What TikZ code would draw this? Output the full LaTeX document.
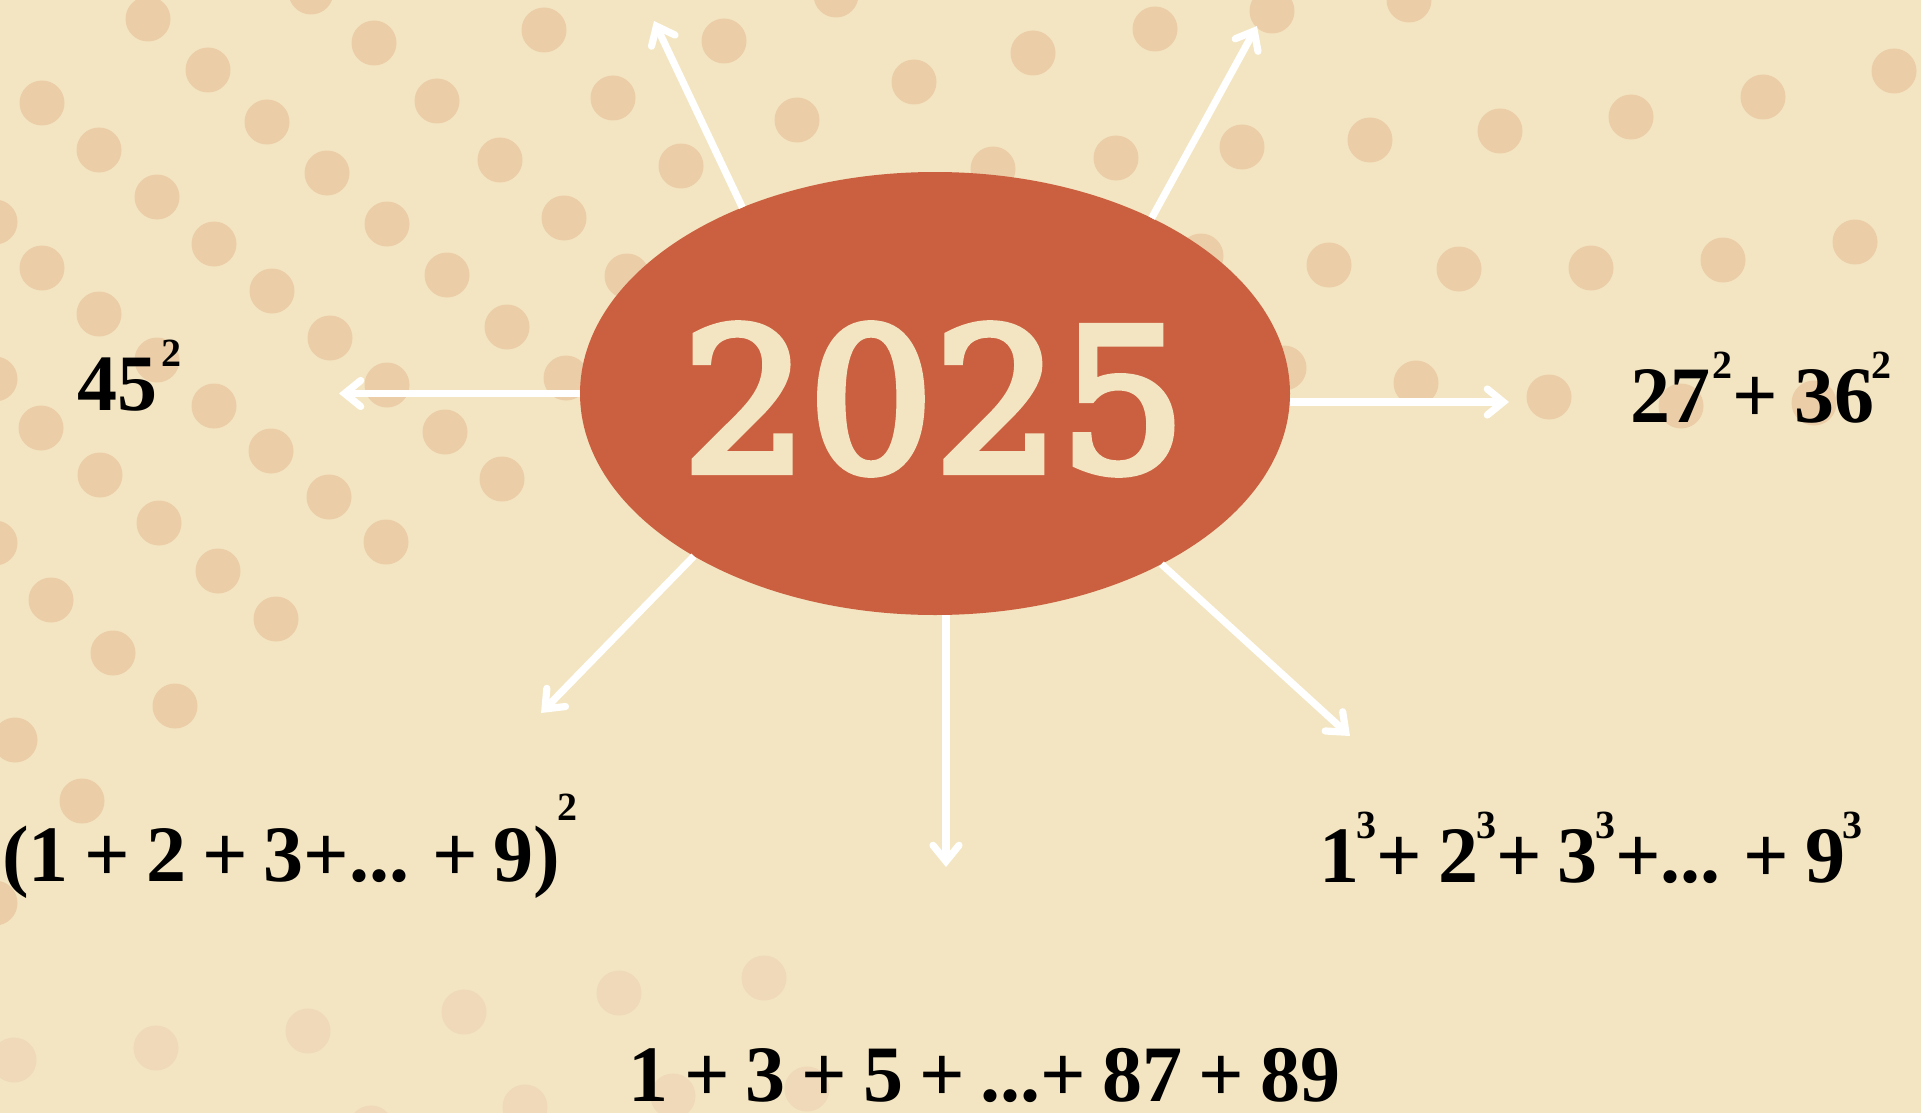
\documentclass[tikz,border=0pt]{standalone}
\usepackage{fontspec}
\setmainfont{Liberation Serif}[WordSpace=0.8]
\newfontfamily\yearfont{DejaVu Serif}[FakeBold=4]
\usetikzlibrary{arrows.meta,shapes.geometric}

\definecolor{cream}{HTML}{F3E5C1}
\definecolor{dotbeige}{HTML}{EBCDA8}
\definecolor{dotpale}{HTML}{EFD9B8}
\definecolor{terracotta}{HTML}{CB6041}

% raised small exponent
\newcommand{\pw}[2][0.55em]{\kern-0.03em\raisebox{#1}{\fontsize{20}{20}\selectfont #2}}

\begin{document}
\begin{tikzpicture}[
    x=0.5pt, y=-0.5pt,
    year/.style={ellipse, fill=terracotta, minimum width=355pt,
                 minimum height=221.5pt, inner sep=0pt, outer sep=0pt},
    yeartext/.style={font={\yearfont\fontsize{99}{99}\selectfont},
                     text=cream, inner sep=0pt},
    formula/.style={font={\fontsize{40}{44}\selectfont\bfseries},
                    anchor=base, inner sep=0pt},
    dot/.style={fill=dotbeige},
    paledot/.style={fill=dotpale},
    arrow/.style={draw=white, line width=3.6pt,
                  -{Straight Barb[length=8pt, width=13pt, line cap=round]}},
  ]
  \useasboundingbox (0,0) rectangle (1921,1113);
  \clip (0,0) rectangle (1921,1113);
  \fill[cream] (0,0) rectangle (1921,1113);

  \foreach \dx/\dy in {311/-8, 148/19, 374/43, 544/30, 42/103, 208/70,
      267/122, 437/101, 613/98, 99/150, 327/173, 500/160, 157/197, -5/222,
      387/224, 564/218, 42/268, 214/244, 447/275, 627/276, 99/314, 272/291,
      507/327, 330/338, 157/360, -5/379, 387/385, 566/378, 214/406, 41/428,
      445/432, 271/451, 100/475, 502/479, 329/497, 159/523, -5/543, 386/542,
      218/571, 51/600, 276/619, 113/653, 175/706, 15/740, 82/801, -5/903,
      836/-5, 724/41, 1033/53, 1155/29, 914/82, 797/120, 681/166, 993/169,
      1116/158, 1242/147, 1272/11, 1201/256, 1409/0,
      1894/71, 1763/97, 1631/117, 1500/131, 1370/140, 1855/242, 1723/260,
      1591/268, 1459/269, 1329/265, 1284/368, 1416/383, 1549/397, 1681/406,
      1814/403}
    \fill[dot] (\dx,\dy) circle (22.5);
  \foreach \dx/\dy in {14/1060, 156/1048, 308/1031, 464/1012, 619/993,
      764/978, 525/1107, 673/1096, 807/1089, 371/1128}
    \fill[paledot] (\dx,\dy) circle (22.5);

  \node[year] (year) at (935,393.5) {};
  \node[yeartext] (num) at (934,399) {2025};

  \coordinate (t45) at (339,393.5);
  \coordinate (tsq) at (1509,402);
  \coordinate (tnw) at (654,21);
  \coordinate (tne) at (1257,26);
  \coordinate (tsum) at (541,713);
  \coordinate (todd) at (946,867);
  \coordinate (tcube) at (1350,736);

  \draw[arrow] (year.west) -- (t45);
  \draw[arrow] (year.east |- tsq) -- (tsq);
  \draw[arrow] (year.136.6) -- (tnw);
  \draw[arrow] (year.39.8) -- (tne);
  \draw[arrow] (year.-146.4) -- (tsum);
  \draw[arrow] (year.south -| todd) -- (todd);
  \draw[arrow] (year.-37.1) -- (tcube);

  \node[formula] (f45) at (129,410) {45\kern0.08em\pw{2}};
  \node[formula] (fsq) at (1761,422) {27\kern0.06em\pw{2}+ 36\pw{2}};
  \node[formula] (fsum) at (290,881) {(1 + 2 + 3+... + 9)\pw[0.76em]{2}};
  \node[formula] (fcube) at (1591,882) {1\pw{3}+ 2\pw{3}+ 3\pw{3}+... + 9\pw{3}};
  \node[formula] (fodd) at (984,1101) {1 + 3 + 5 + ...+ 87 + 89};
\end{tikzpicture}
\end{document}
